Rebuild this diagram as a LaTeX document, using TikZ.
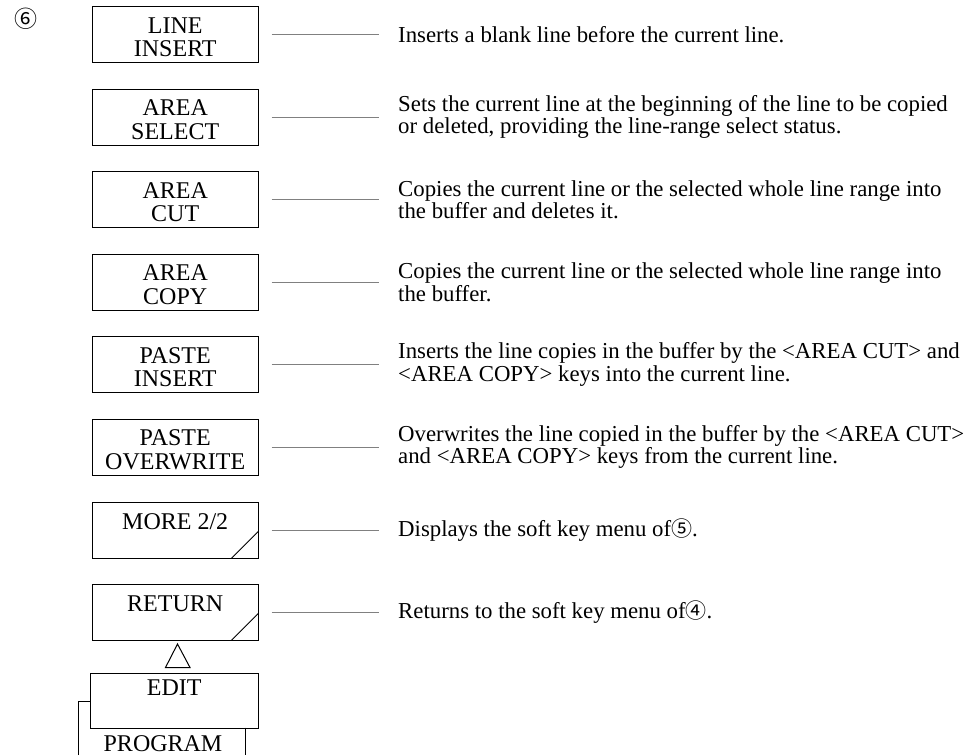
\documentclass[tikz,border=0pt]{standalone}
\usepackage{fontspec}
\setmainfont{Liberation Serif}
\newfontfamily\symfont{Noto Sans CJK JP}
\begin{document}
\begin{tikzpicture}[x=1pt,y=-1pt,
  keybox/.style={draw, line width=1pt, minimum width=166pt, minimum height=56pt,
    inner sep=0pt, anchor=north west, align=center,
    text height=44.5pt, text depth=0pt,
    font=\fontsize{24}{23.5}\selectfont},
  onekey/.style={keybox, text height=16pt, text depth=17.5pt},
  desc/.style={anchor=west, align=left, inner sep=0pt,
    font=\fontsize{22.8}{22.5}\selectfont},
  conn/.style={line width=0.7pt, black!50},
  slash/.style={line width=1pt}]
\useasboundingbox (0,0) rectangle (976,755);

\node[font=\symfont\fontsize{23}{23}\selectfont, inner sep=0pt] (six) at (26,19) {⑥};

\node[keybox] (b1) at (91.7,6)     {LINE\\INSERT};
\node[keybox] (b2) at (91.7,88.5)  {AREA\\SELECT};
\node[keybox] (b3) at (91.7,171)   {AREA\\CUT};
\node[keybox] (b4) at (91.7,253.5) {AREA\\COPY};
\node[keybox] (b5) at (91.7,336)   {PASTE\\INSERT};
\node[keybox] (b6) at (91.7,418.5) {PASTE\\OVERWRITE};
\node[onekey] (b7) at (91.7,501.5) {MORE 2/2};
\node[onekey] (b8) at (91.7,583.5) {RETURN};

\draw[slash] ([xshift=-27.5pt]b7.south east) -- ([yshift=27.5pt]b7.south east);
\draw[slash] ([xshift=-27.5pt]b8.south east) -- ([yshift=27.5pt]b8.south east);

\node[desc] (d1) at ([xshift=139.3pt]b1.east) {Inserts a blank line before the current line.};
\node[desc] (d2) at ([xshift=139.3pt]b2.east) {Sets the current line at the beginning of the line to be copied\\or deleted, providing the line-range select status.};
\node[desc] (d3) at ([xshift=139.3pt]b3.east) {Copies the current line or the selected whole line range into\\the buffer and deletes it.};
\node[desc] (d4) at ([xshift=139.3pt]b4.east) {Copies the current line or the selected whole line range into\\the buffer.};
\node[desc] (d5) at ([xshift=139.3pt]b5.east) {Inserts the line copies in the buffer by the <AREA CUT> and\\<AREA COPY> keys into the current line.};
\node[desc] (d6) at ([xshift=139.3pt]b6.east) {Overwrites the line copied in the buffer by the <AREA CUT>\\and <AREA COPY> keys from the current line.};
\node[desc] (d7) at ([xshift=139.3pt]b7.east) {Displays the soft key menu of{\symfont\fontsize{21}{21}\selectfont ⑤}.};
\node[desc] (d8) at ([xshift=139.3pt]b8.east) {Returns to the soft key menu of{\symfont\fontsize{21}{21}\selectfont ④}.};

\foreach \i in {1,...,8}
  \draw[conn] ([xshift=13pt]b\i.east) -- ([xshift=-19pt]d\i.west);

% PROGRAM key behind EDIT
\draw[line width=1pt] (78.3,755) -- (78.3,701.7) -- (89.7,701.7);
\draw[line width=1pt] (245,727.7) -- (245,755);
\node[anchor=base, inner sep=0pt, font=\fontsize{24}{23.5}\selectfont] (prog) at (163,751.5) {PROGRAM};

\node[onekey, minimum width=168pt, minimum height=55pt, text height=16pt, text depth=26.5pt] (edit) at (89.7,672.7) {EDIT};

% triangle pointer from EDIT up to RETURN
\coordinate (tri) at (177.5,644);
\draw[line width=1pt, fill=white] (tri) -- (165.5,667.5) -- (190,667.5) -- cycle;
\end{tikzpicture}
\end{document}
